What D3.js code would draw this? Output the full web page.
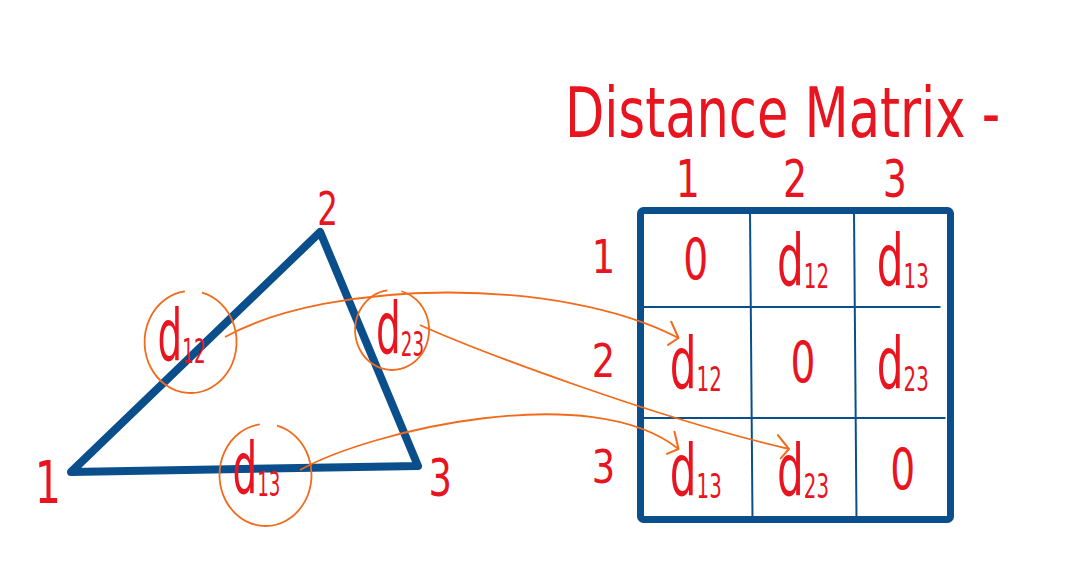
<!DOCTYPE html>
<html>
<head>
<meta charset="utf-8">
<script src="https://cdn.jsdelivr.net/npm/d3@7"></script>
<style>
  html, body { margin: 0; background: #fff; }
  svg { display: block; }
</style>
</head>
<body>
<div id="chart"></div>
<script>
// graph: three points, their pairwise distances, and the matrix they fill
var nodeIds = ["1", "2", "3"];
var nodeX = [0, 7.18, 10];
var nodeY = [0, 10, 0.25];
var edgePairs = [[0, 1], [1, 2], [0, 2]];
var edgeLabels = ["d12", "d23", "d13"];
var edgeTargets = [[1, 0], [2, 1], [2, 0]];   // [row, col] the arrow points to

var matrixRows = ["1", "2", "3"];
var matrixCols = ["1", "2", "3"];
var matrixValues = [
  ["0", "d12", "d13"],
  ["d12", "0", "d23"],
  ["d13", "d23", "0"]
];
var titleText = "Distance Matrix -";

var width = 1069, height = 581;
var red = "#e8141f", blue = "#0a4f8c", orange = "#f26a1a";
var font = "'DejaVu Sans', sans-serif";

// hand placement of the edge labels relative to each edge midpoint
var labelNudge = [[-14, -18], [31, -22], [12, -2]];
var ringShift = [[9, 8], [-8, 3], [9, 8]];
var ringSize = [[46, 51], [37, 40], [46, 51]];
var arrowBend = [[0.23, -58, 0.26, -62], [0.17, 28, 0.35, -30], [0.19, -40, 0.23, -70]];

var svg = d3.select("#chart")
  .append("svg")
  .attr("width", width)
  .attr("height", height);

svg.append("defs").append("marker")
  .attr("id", "head")
  .attr("markerUnits", "userSpaceOnUse")
  .attr("viewBox", "-17 -14 20 28")
  .attr("refX", 0)
  .attr("refY", 0)
  .attr("markerWidth", 20)
  .attr("markerHeight", 28)
  .attr("orient", "auto")
  .append("path")
  .attr("d", "M-14,-11 L0,0 L-6,11")
  .style("fill", "none")
  .style("stroke", orange)
  .style("stroke-width", 2)
  .style("stroke-linecap", "round")
  .style("stroke-linejoin", "round");

var x = d3.scaleLinear().domain([0, 10]).range([71, 418]);
var y = d3.scaleLinear().domain([0, 10]).range([472, 232]);

// matrix grid lines are not evenly spaced in the sketch
var col = d3.scaleLinear().domain([0, 1, 2, 3]).range([640.5, 751, 855, 950.5]);
var row = d3.scaleLinear().domain([0, 1, 2, 3]).range([210.5, 307, 418, 519.5]);

// narrow handwriting look: squeeze text horizontally
function putText(parent, str, tx, ty, size, sx, anchor) {
  return parent.append("text")
    .attr("transform", "translate(" + tx + "," + ty + ") scale(" + sx + ",1)")
    .attr("text-anchor", anchor || "middle")
    .style("font-family", font)
    .style("font-size", size + "px")
    .style("fill", red)
    .text(str);
}

function dLabel(g, label, cx, cy, size, len) {
  if (label.length === 1) {
    putText(g, label, cx, cy + size * 0.29, size * 0.8, len / (0.636 * size * 0.8));
    return;
  }
  var subSize = size * 0.47;
  var wd = 0.635 * size, ws = 0.636 * subSize * (label.length - 1);
  var sx = len / (wd + ws);
  var grp = g.append("g")
    .attr("transform", "translate(" + (cx - len / 2) + "," + (cy + size * 0.38 - 1.5) + ") scale(" + sx + ",1)");
  grp.append("text")
    .style("font-family", font)
    .style("font-size", size + "px")
    .style("fill", red)
    .text(label[0]);
  grp.append("text")
    .attr("x", wd)
    .attr("y", size * 0.04)
    .style("font-family", font)
    .style("font-size", subSize + "px")
    .style("fill", red)
    .text(label.slice(1));
}

// triangle
var pts = nodeIds.map(function(d, i) { return [x(nodeX[i]), y(nodeY[i])]; });
svg.append("path")
  .attr("d", d3.line()(pts) + "Z")
  .style("fill", "none")
  .style("stroke", blue)
  .style("stroke-width", 8)
  .style("stroke-linejoin", "round");

var cxm = d3.mean(pts, function(p) { return p[0]; });
var cym = d3.mean(pts, function(p) { return p[1]; });
var vertexSizes = [58, 46, 52];
pts.forEach(function(p, i) {
  var dx = p[0] - cxm, dy = p[1] - cym;
  var n = Math.sqrt(dx * dx + dy * dy);
  var s = vertexSizes[i];
  putText(svg, nodeIds[i], p[0] + dx / n * 25, p[1] + dy / n * 25 + s * 0.365, s, 0.71);
});

// matrix frame and grid
var grid = svg.append("g");
grid.selectAll(".vline")
  .data([1, 2])
  .enter().append("line")
  .attr("x1", function(d) { return col(d) - 1; })
  .attr("x2", function(d) { return col(d) + 1.5; })
  .attr("y1", row(0))
  .attr("y2", row(3))
  .style("stroke", blue)
  .style("stroke-width", 2);
grid.selectAll(".hline")
  .data([1, 2])
  .enter().append("line")
  .attr("x1", col(0))
  .attr("x2", function(d) { return col(3) - (d === 1 ? 10 : 5); })
  .attr("y1", function(d) { return row(d); })
  .attr("y2", function(d) { return row(d); })
  .style("stroke", blue)
  .style("stroke-width", 2);
grid.append("rect")
  .attr("x", col(0))
  .attr("y", row(0))
  .attr("width", col(3) - col(0))
  .attr("height", row(3) - row(0))
  .attr("rx", 3)
  .style("fill", "none")
  .style("stroke", blue)
  .style("stroke-width", 7);

// headers
matrixCols.forEach(function(c, i) {
  putText(svg, c, (col(i) + col(i + 1)) / 2 - 8, row(0) - 14, 52, 0.73);
});
matrixRows.forEach(function(r, i) {
  putText(svg, r, col(0) - 37, (row(i) + row(i + 1)) / 2 + 14, 46, 0.8);
});

// cells
matrixValues.forEach(function(vals, i) {
  vals.forEach(function(v, j) {
    var cx = (col(j) + col(j + 1)) / 2;
    var cy = (row(i) + row(i + 1)) / 2;
    dLabel(svg, v, cx, cy, 72, v.length > 1 ? 52 : 25);
  });
});

// edge labels, open hand-drawn rings and arrows
edgePairs.forEach(function(e, k) {
  var a = pts[e[0]], b = pts[e[1]];
  var lx = (a[0] + b[0]) / 2 + labelNudge[k][0];
  var ly = (a[1] + b[1]) / 2 + labelNudge[k][1];
  dLabel(svg, edgeLabels[k], lx, ly, 72, 48);

  var rcx = lx + ringShift[k][0], rcy = ly + ringShift[k][1];
  var rx = ringSize[k][0], ry = ringSize[k][1];
  var a0 = -Math.PI * 0.42, a1 = a0 + Math.PI * 1.88;
  var ring = "M" + (rcx + rx * Math.cos(a0)) + "," + (rcy + ry * Math.sin(a0)) +
    "A" + rx + "," + ry + " 0 1 1 " + (rcx + rx * Math.cos(a1)) + "," + (rcy + ry * Math.sin(a1));
  svg.append("path")
    .attr("d", ring)
    .style("fill", "none")
    .style("stroke", orange)
    .style("stroke-width", 1.8);

  var sx = rcx + rx * 0.75, sy = rcy - 5;
  var t = edgeTargets[k];
  var ex = col(t[1]) + 38, ey = row(t[0]) + 31;
  var dx = ex - sx, bend = arrowBend[k];
  var p = d3.path();
  p.moveTo(sx, sy);
  p.bezierCurveTo(sx + dx * bend[0], sy + bend[1], ex - dx * bend[2], ey + bend[3], ex, ey);
  svg.append("path")
    .attr("d", p.toString())
    .attr("marker-end", "url(#head)")
    .style("fill", "none")
    .style("stroke", orange)
    .style("stroke-width", 1.8);
});

// title
putText(svg, titleText, 565, 137, 70, 0.73, "start");
</script>
</body>
</html>
